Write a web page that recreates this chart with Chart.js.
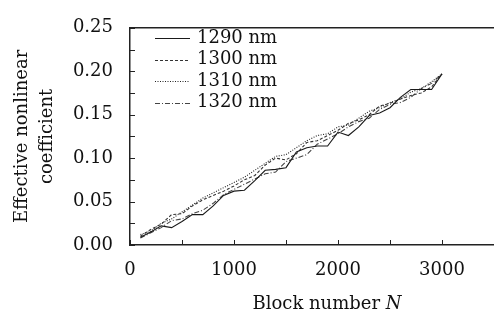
<!DOCTYPE html>
<html lang="en">
<head>
  <meta charset="UTF-8">
  <title>Effective nonlinear coefficient vs block number</title>
  <script src="https://cdn.jsdelivr.net/npm/chart.js"></script>
  <style>
    body { margin: 0; padding: 0; background: #fff; }
    #wrap { width: 494px; height: 322px; }
  </style>
</head>
<body>
  <div id="wrap"><canvas id="myChart" width="494" height="322"></canvas></div>

  <script>
    // block numbers
    const blocks = [100, 200, 300, 400, 500, 600, 700, 800, 900, 1000,
                    1100, 1200, 1300, 1400, 1500, 1600, 1700, 1800, 1900, 2000,
                    2100, 2200, 2300, 2400, 2500, 2600, 2700, 2800, 2900, 3000];

    const d1290 = [0.009, 0.015, 0.022, 0.020, 0.027, 0.035, 0.035, 0.045, 0.057, 0.062,
                   0.063, 0.074, 0.086, 0.087, 0.089, 0.107, 0.112, 0.114, 0.114, 0.130,
                   0.126, 0.136, 0.149, 0.152, 0.158, 0.170, 0.179, 0.179, 0.179, 0.197];
    const d1300 = [0.010, 0.018, 0.024, 0.035, 0.036, 0.045, 0.052, 0.057, 0.062, 0.068,
                   0.075, 0.080, 0.092, 0.100, 0.098, 0.105, 0.118, 0.120, 0.126, 0.132,
                   0.140, 0.144, 0.150, 0.160, 0.163, 0.168, 0.172, 0.175, 0.182, 0.197];
    const d1310 = [0.012, 0.016, 0.025, 0.030, 0.038, 0.046, 0.054, 0.060, 0.066, 0.072,
                   0.078, 0.086, 0.094, 0.102, 0.104, 0.112, 0.120, 0.126, 0.128, 0.136,
                   0.138, 0.146, 0.154, 0.158, 0.164, 0.168, 0.176, 0.180, 0.188, 0.197];
    const d1320 = [0.008, 0.014, 0.020, 0.028, 0.030, 0.036, 0.040, 0.048, 0.058, 0.064,
                   0.070, 0.076, 0.082, 0.084, 0.096, 0.100, 0.104, 0.116, 0.122, 0.128,
                   0.136, 0.142, 0.146, 0.156, 0.162, 0.164, 0.170, 0.180, 0.186, 0.197];

    const seriesLabels = ['1290 nm', '1300 nm', '1310 nm', '1320 nm'];
    const xTicks = [0, 1000, 2000, 3000];
    const xMinorTicks = [500, 1500, 2500, 3500];
    const yTicks = [0, 0.05, 0.10, 0.15, 0.20, 0.25];
    const yMinorTicks = [0.025, 0.075, 0.125, 0.175, 0.225];

    const FONT = "'DejaVu Serif', serif";
    const INK = '#222';

    function pts(vals) {
      return blocks.map((b, i) => ({ x: b, y: vals[i] }));
    }

    // frame top line, inward tick marks, legend and x title
    const decor = {
      id: 'decor',
      afterDraw(chart) {
        const { ctx, chartArea, scales } = chart;
        const xs = scales.x, ys = scales.y;
        ctx.save();
        ctx.strokeStyle = INK;
        ctx.lineWidth = 1.5;
        ctx.beginPath();
        ctx.moveTo(chartArea.left, chartArea.top);
        ctx.lineTo(chartArea.right, chartArea.top);
        ctx.stroke();

        ctx.lineWidth = 1;
        ctx.beginPath();
        xTicks.concat(xMinorTicks).forEach(v => {
          const px = Math.round(xs.getPixelForValue(v)) + 0.5;
          ctx.moveTo(px, chartArea.bottom);
          ctx.lineTo(px, chartArea.bottom - 5);
        });
        yTicks.concat(yMinorTicks).forEach(v => {
          const py = Math.round(ys.getPixelForValue(v)) + 0.5;
          ctx.moveTo(chartArea.left, py);
          ctx.lineTo(chartArea.left + 5, py);
        });
        ctx.stroke();

        // legend
        ctx.font = '18px ' + FONT;
        ctx.fillStyle = '#111';
        ctx.textBaseline = 'middle';
        ctx.textAlign = 'left';
        chart.data.datasets.forEach((ds, i) => {
          const y = 38 + i * 21.6;
          ctx.strokeStyle = ds.borderColor;
          ctx.lineWidth = 1;
          ctx.setLineDash(ds.borderDash || []);
          ctx.beginPath();
          ctx.moveTo(155, Math.round(y) + 0.5);
          ctx.lineTo(190, Math.round(y) + 0.5);
          ctx.stroke();
          ctx.setLineDash([]);
          ctx.fillText(ds.label, 197, y);
        });

        // x axis title with italic N
        const t1 = 'Block number ';
        const t2 = 'N';
        ctx.font = '18px ' + FONT;
        const w1 = ctx.measureText(t1).width;
        ctx.font = 'italic 18px ' + FONT;
        const w2 = ctx.measureText(t2).width;
        const cx = 327;
        let x0 = cx - (w1 + w2) / 2;
        ctx.textBaseline = 'alphabetic';
        ctx.font = '18px ' + FONT;
        ctx.fillText(t1, x0, 309);
        ctx.font = 'italic 18px ' + FONT;
        ctx.fillText(t2, x0 + w1, 309);
        ctx.restore();
      }
    };

    const ctx = document.getElementById('myChart').getContext('2d');
    new Chart(ctx, {
      type: 'line',
      data: {
        datasets: [
          { label: seriesLabels[0], data: pts(d1290), borderColor: '#1a1a1a', borderWidth: 1.1, borderDash: [] },
          { label: seriesLabels[1], data: pts(d1300), borderColor: '#333', borderWidth: 1.1, borderDash: [3, 2] },
          { label: seriesLabels[2], data: pts(d1310), borderColor: '#222', borderWidth: 1.1, borderDash: [1, 1.5] },
          { label: seriesLabels[3], data: pts(d1320), borderColor: '#444', borderWidth: 1.1, borderDash: [5, 2, 1, 2] }
        ]
      },
      options: {
        responsive: false,
        animation: false,
        layout: { padding: { top: 15, right: 0, left: 0, bottom: 0 } },
        elements: { point: { radius: 0 }, line: { tension: 0 } },
        plugins: {
          legend: { display: false },
          tooltip: { enabled: false }
        },
        scales: {
          x: {
            type: 'linear',
            min: 0,
            max: 3500,
            afterFit(scale) { scale.height = 322 - 245; },
            afterBuildTicks(scale) { scale.ticks = xTicks.map(v => ({ value: v })); },
            grid: { display: false, drawTicks: false },
            border: { display: true, color: INK, width: 1.5 },
            ticks: {
              padding: 15,
              color: '#111',
              font: { family: FONT, size: 18 },
              maxRotation: 0,
              callback: v => String(v)
            }
          },
          y: {
            min: 0,
            max: 0.25,
            afterFit(scale) { scale.width = 130; },
            afterBuildTicks(scale) { scale.ticks = yTicks.map(v => ({ value: v })); },
            grid: { display: false, drawTicks: false },
            border: { display: true, color: INK, width: 1.5 },
            ticks: {
              padding: 17,
              color: '#111',
              font: { family: FONT, size: 18 },
              callback: v => Number(v).toFixed(2)
            },
            title: {
              display: true,
              text: ['Effective nonlinear', 'coefficient'],
              color: '#111',
              font: { family: FONT, size: 18, lineHeight: 1.4 },
              padding: { top: 10, bottom: 0 }
            }
          }
        }
      },
      plugins: [decor]
    });
  </script>
</body>
</html>
